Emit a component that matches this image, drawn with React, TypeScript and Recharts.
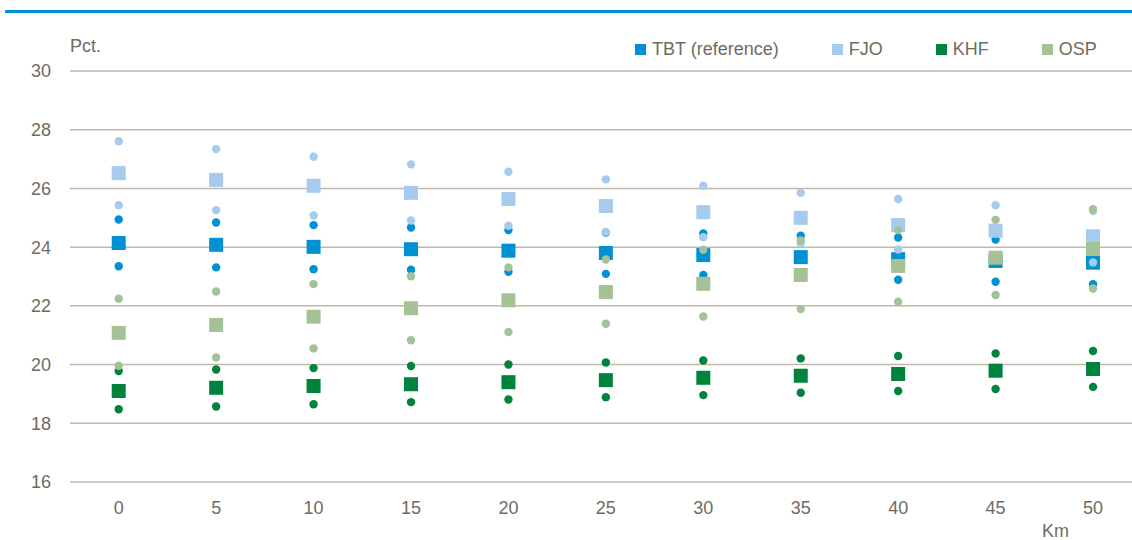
import { CartesianGrid, Scatter, ScatterChart, XAxis, YAxis } from "recharts";

const kms = [0, 5, 10, 15, 20, 25, 30, 35, 40, 45, 50];
const yTicks = [16, 18, 20, 22, 24, 26, 28, 30];

const tbtMid = [24.14, 24.08, 24.01, 23.93, 23.88, 23.8, 23.73, 23.66, 23.59, 23.53, 23.47];
const tbtHigh = [24.94, 24.84, 24.75, 24.67, 24.58, 24.5, 24.47, 24.39, 24.33, 24.26, 24.2];
const tbtLow = [23.35, 23.31, 23.25, 23.23, 23.16, 23.09, 23.05, 22.98, 22.89, 22.82, 22.74];

const fjoMid = [26.52, 26.29, 26.09, 25.85, 25.64, 25.4, 25.19, 25.0, 24.75, 24.56, 24.37];
const fjoHigh = [27.61, 27.34, 27.08, 26.82, 26.57, 26.31, 26.09, 25.85, 25.64, 25.43, 25.23];
const fjoLow = [25.43, 25.26, 25.08, 24.91, 24.73, 24.52, 24.34, 24.13, 23.92, 23.7, 23.48];

const khfMid = [19.1, 19.21, 19.27, 19.33, 19.4, 19.47, 19.55, 19.62, 19.68, 19.79, 19.85];
const khfHigh = [19.78, 19.83, 19.88, 19.95, 20.0, 20.07, 20.14, 20.21, 20.29, 20.38, 20.46];
const khfLow = [18.48, 18.57, 18.65, 18.72, 18.81, 18.89, 18.96, 19.04, 19.1, 19.17, 19.24];

const ospMid = [21.08, 21.35, 21.63, 21.92, 22.19, 22.47, 22.75, 23.05, 23.36, 23.64, 23.94];
const ospHigh = [22.24, 22.49, 22.74, 23.01, 23.31, 23.58, 23.91, 24.23, 24.58, 24.93, 25.29];
const ospLow = [19.96, 20.24, 20.55, 20.83, 21.11, 21.39, 21.64, 21.89, 22.14, 22.37, 22.59];

const FONT = "'Liberation Sans', Arial, sans-serif";
const FS = 18;
const TEXT = "#6e6c60";
const GRID = "#bdb9ab";

type Series = { name: string; color: string; mid: number[]; high: number[]; low: number[] };

const series: Series[] = [
  { name: "TBT (reference)", color: "#0090d4", mid: tbtMid, high: tbtHigh, low: tbtLow },
  { name: "FJO", color: "#a6cbee", mid: fjoMid, high: fjoHigh, low: fjoLow },
  { name: "KHF", color: "#00843d", mid: khfMid, high: khfHigh, low: khfLow },
  { name: "OSP", color: "#a5c296", mid: ospMid, high: ospHigh, low: ospLow },
];

const toPoints = (values: number[]) => kms.map((km, i) => ({ km, v: values[i] }));

const square = (color: string) => (p: any) =>
  <rect x={p.cx - 7} y={p.cy - 7} width={14} height={14} fill={color} />;

const dot = (color: string) => (p: any) => <circle cx={p.cx} cy={p.cy} r={4.2} fill={color} />;

function LegendBox() {
  return (
    <div
      style={{
        position: "absolute",
        left: 635,
        top: 39,
        display: "flex",
        alignItems: "center",
        whiteSpace: "nowrap",
        fontFamily: FONT,
        fontSize: FS,
        color: TEXT,
      }}
    >
      {series.map((s) => (
        <div key={s.name} style={{ display: "flex", alignItems: "center", marginRight: 53 }}>
          <span style={{ width: 11, height: 11, background: s.color, marginRight: 6 }} />
          <span>{s.name}</span>
        </div>
      ))}
    </div>
  );
}

export default function App() {
  return (
    <div
      style={{
        position: "fixed",
        left: 0,
        top: 0,
        width: 1132,
        height: 540,
        overflow: "hidden",
        background: "#fff",
      }}
    >
      <div style={{ position: "absolute", left: 5, top: 10, width: 1127, height: 3, background: "#0091d1" }} />
      <ScatterChart width={1132} height={540} margin={{ top: 71, right: 0, bottom: 0, left: 0 }}>
        <CartesianGrid vertical={false} stroke={GRID} strokeWidth={1.5} />
        <XAxis
          dataKey="km"
          type="number"
          domain={[-2.5, 52]}
          ticks={kms}
          axisLine={false}
          tickLine={false}
          tickSize={0}
          tickMargin={19}
          height={58}
          tick={{ fill: TEXT, fontSize: FS, fontFamily: FONT }}
          label={{
            value: "Km",
            content: (p: any) => (
              <text
                x={p.viewBox.x + p.viewBox.width - 90}
                y={p.viewBox.y + p.viewBox.height - 3}
                fill={TEXT}
                fontSize={FS}
                fontFamily={FONT}
              >
                Km
              </text>
            ),
          }}
        />
        <YAxis
          dataKey="v"
          type="number"
          domain={[16, 30]}
          ticks={yTicks}
          axisLine={false}
          tickLine={false}
          tickSize={0}
          tickMargin={19}
          width={70}
          tick={{ fill: TEXT, fontSize: FS, fontFamily: FONT }}
          label={{
            value: "Pct.",
            content: (p: any) => (
              <text
                x={p.viewBox.x + p.viewBox.width}
                y={p.viewBox.y - 19}
                fill={TEXT}
                fontSize={FS}
                fontFamily={FONT}
              >
                Pct.
              </text>
            ),
          }}
        />
        {series.flatMap((s) => [
          <Scatter
            key={s.name + "-mid"}
            name={s.name}
            data={toPoints(s.mid)}
            shape={square(s.color)}
            isAnimationActive={false}
          />,
          <Scatter
            key={s.name + "-high"}
            data={toPoints(s.high)}
            shape={dot(s.color)}
            legendType="none"
            isAnimationActive={false}
          />,
          <Scatter
            key={s.name + "-low"}
            data={toPoints(s.low)}
            shape={dot(s.color)}
            legendType="none"
            isAnimationActive={false}
          />,
        ])}
      </ScatterChart>
      <LegendBox />
    </div>
  );
}
